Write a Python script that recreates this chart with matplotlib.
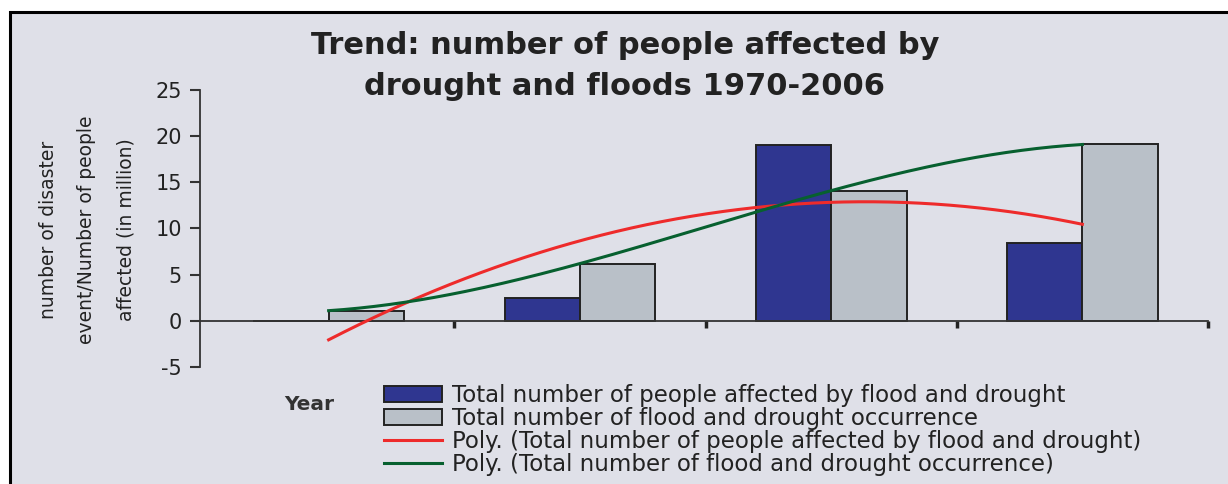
import numpy as np
import matplotlib.pyplot as plt
from matplotlib.patches import Rectangle

# bar values per period (people in million / number of events)
periods = [1, 2, 3, 4]
people_affected = [0, 2.5, 19, 8.4]
occurrences = [1.1, 6.2, 14.1, 19.1]

label_people = 'Total number of people affected by flood and drought'
label_occ = 'Total number of flood and drought occurrence'
label_poly_people = 'Poly. (Total number of people affected by flood and drought)'
label_poly_occ = 'Poly. (Total number of flood and drought occurrence)'

bg = '#dfe0e8'
c_blue = '#2f3690'
c_gray = '#b9c0c8'
c_red = '#ee2b2b'
c_green = '#07602f'

plt.rcParams['font.family'] = ['Liberation Sans', 'DejaVu Sans']
plt.rcParams['axes.unicode_minus'] = False

fig = plt.figure(figsize=(12.28, 4.84), dpi=100)
fig.patch.set_facecolor('white')
# chart area with black frame (right and bottom edges run off the canvas)
fig.patches.append(Rectangle((10 / 1228, -0.02), 1.0, 1 - 12 / 484 + 0.02,
                             transform=fig.transFigure, facecolor=bg,
                             edgecolor='black', linewidth=2.2, zorder=-5))

ax = fig.add_axes([200 / 1228, 1 - 367 / 484, 1008 / 1228, 277 / 484])
ax.set_facecolor('none')
ax.set_zorder(2)

x = np.array(periods)
w = 0.3
ax.bar(x - w, people_affected, w, align='edge', color=c_blue,
       edgecolor='#222222', linewidth=1.4, label=label_people, zorder=2)
ax.bar(x, occurrences, w, align='edge', color=c_gray,
       edgecolor='#222222', linewidth=1.4, label=label_occ, zorder=2)

# polynomial trend lines (order 2 for people, order 3 for occurrences)
t = np.linspace(x.min(), x.max(), 200)
red = np.polyval(np.polyfit(x, people_affected, 2), t)
green = np.polyval(np.polyfit(x, occurrences, 3), t)
ax.plot(t, red, color=c_red, linewidth=2.2, label=label_poly_people, zorder=3)
ax.plot(t, green, color=c_green, linewidth=2.2, label=label_poly_occ, zorder=3)

ax.set_xlim(0.488, 4.5)
ax.set_ylim(-5, 25)
ax.set_yticks(range(-5, 26, 5))
ax.set_xticks([1.5, 2.5, 3.5, 4.5])
ax.set_xticklabels([])
for s in ['top', 'right']:
    ax.spines[s].set_visible(False)
ax.spines['bottom'].set_position(('data', 0))
for s in ['left', 'bottom']:
    ax.spines[s].set_color('#333333')
    ax.spines[s].set_linewidth(1.3)
ax.tick_params(axis='y', direction='out', length=7, width=1.5, pad=6,
               labelsize=15, labelcolor='#222222', color='#333333')
for lbl in ax.get_yticklabels():
    lbl.set_family('DejaVu Sans')
ax.tick_params(axis='x', direction='out', length=5, width=2.5, color='#222222')

fig.text(625 / 1228, 1 - 66 / 484,
         'Trend: number of people affected by\ndrought and floods 1970-2006',
         ha='center', va='center', fontsize=22, fontweight='bold',
         family='DejaVu Sans', color='#222222', linespacing=1.5)

fig.text(87 / 1228, 1 - 230 / 484,
         'number of disaster\nevent/Number of people\naffected (in million)',
         rotation=90, ha='center', va='center', multialignment='center',
         fontsize=13.5, family='DejaVu Sans', color='#222222', linespacing=2.3)

fig.text(309 / 1228, 1 - 405 / 484, 'Year', ha='center', va='center',
         fontsize=14.5, fontweight='bold', family='DejaVu Sans', color='#333333')

handles, labels = ax.get_legend_handles_labels()
order = [2, 3, 0, 1]
leg = fig.legend([handles[i] for i in order], [labels[i] for i in order],
                 loc='upper left', bbox_to_anchor=(384 / 1228, 1 - 384 / 484),
                 frameon=False, handlelength=2.55, borderaxespad=0,
                 handletextpad=0.4, labelspacing=0.0, borderpad=0,
                 prop={'family': 'DejaVu Sans', 'size': 16.5})
for txt in leg.get_texts():
    txt.set_color('#222222')

fig.savefig('out.png', dpi=100, facecolor=fig.get_facecolor())
